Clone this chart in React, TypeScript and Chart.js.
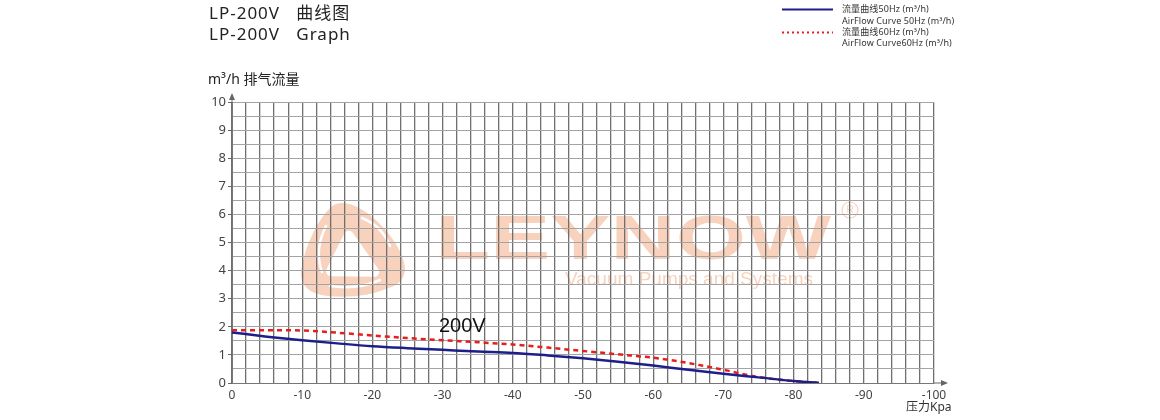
import React, { useEffect, useRef } from "react";
import { Chart, registerables } from "chart.js";

Chart.register(...registerables);

const pressure = [0, -5, -10, -15, -20, -25, -30, -35, -40, -45, -50, -55, -60, -65, -70, -75, -80, -83.6];
const flow50 = [1.8, 1.65, 1.52, 1.41, 1.31, 1.24, 1.18, 1.12, 1.07, 0.98, 0.88, 0.76, 0.62, 0.47, 0.33, 0.2, 0.07, 0];
const flow60 = [1.88, 1.88, 1.87, 1.79, 1.69, 1.6, 1.52, 1.45, 1.37, 1.26, 1.14, 1.02, 0.9, 0.71, 0.47, 0.21, 0.07, 0];

const titleLines = ["LP-200V   曲线图", "LP-200V   Graph"];
const legendLabels = ["流量曲线50Hz (m³/h)", "AirFlow Curve 50Hz (m³/h)", "流量曲线60Hz (m³/h)", "AirFlow Curve60Hz (m³/h)"];
const yAxisTitle = "m³/h 排气流量";
const xAxisTitle = "压力Kpa";
const curveLabel = "200V";

const BLUE = "#1c1f8a";
const RED = "#e61e1e";
const PEACH = "#f8d2bc";
const FONT = "'Noto Sans', 'Noto Sans CJK SC', sans-serif";

function roundedTri(ctx: CanvasRenderingContext2D, pts: number[][], r: number) {
  const n = pts.length;
  const mid = (a: number[], b: number[]) => [(a[0] + b[0]) / 2, (a[1] + b[1]) / 2];
  const start = mid(pts[n - 1], pts[0]);
  ctx.beginPath();
  ctx.moveTo(start[0], start[1]);
  for (let i = 0; i < n; i++) {
    const p = pts[i];
    const q = pts[(i + 1) % n];
    const m = mid(p, q);
    ctx.arcTo(p[0], p[1], m[0], m[1], r);
  }
  ctx.closePath();
}

const decor = {
  id: "decor",
  beforeDraw(chart: any) {
    const ctx = chart.ctx as CanvasRenderingContext2D;
    ctx.save();
    ctx.fillStyle = "#ffffff";
    ctx.fillRect(0, 0, chart.width, chart.height);

    // logo
    ctx.fillStyle = PEACH;
    ctx.beginPath();
    ctx.moveTo(343, 203);
    ctx.bezierCurveTo(366, 204, 398, 238, 404, 262);
    ctx.bezierCurveTo(408, 278, 398, 286, 388, 288);
    ctx.bezierCurveTo(370, 296, 348, 298, 328, 296);
    ctx.bezierCurveTo(306, 294, 298, 282, 302, 266);
    ctx.bezierCurveTo(306, 244, 318, 220, 330, 208);
    ctx.bezierCurveTo(334, 204, 338, 203, 343, 203);
    ctx.closePath();
    ctx.fill();
    ctx.fillStyle = "#ffffff";
    roundedTri(ctx, [[348, 226], [323, 276], [384, 277]], 5);
    ctx.fill();
    ctx.strokeStyle = "#ffffff";
    ctx.lineWidth = 2.5;
    ctx.lineCap = "round";
    ctx.beginPath();
    ctx.moveTo(326, 226);
    ctx.quadraticCurveTo(314, 250, 322, 272);
    ctx.stroke();
    ctx.beginPath();
    ctx.moveTo(362, 218);
    ctx.quadraticCurveTo(382, 226, 390, 246);
    ctx.stroke();
    ctx.beginPath();
    ctx.moveTo(330, 286);
    ctx.quadraticCurveTo(358, 290, 380, 280);
    ctx.stroke();

    // LEYNOW
    ctx.fillStyle = PEACH;
    ctx.font = `bold 63px 'Liberation Sans', Arial, sans-serif`;
    ctx.textBaseline = "alphabetic";
    ctx.textAlign = "left";
    const w = ctx.measureText("LEYNOW").width;
    ctx.save();
    ctx.translate(435, 259);
    ctx.scale(396 / w, 1);
    ctx.fillText("LEYNOW", 0, 0);
    ctx.restore();
    ctx.font = `19px 'Liberation Sans', Arial, sans-serif`;
    const w2 = ctx.measureText("Vacuum Pumps and Systems").width;
    ctx.save();
    ctx.translate(565, 285);
    ctx.scale(248 / w2, 1);
    ctx.fillText("Vacuum Pumps and Systems", 0, 0);
    ctx.restore();
    ctx.strokeStyle = PEACH;
    ctx.lineWidth = 1.2;
    ctx.beginPath();
    ctx.arc(850, 210, 8, 0, Math.PI * 2);
    ctx.stroke();
    ctx.font = `10px 'Liberation Sans', Arial, sans-serif`;
    ctx.textAlign = "center";
    ctx.textBaseline = "middle";
    ctx.fillText("R", 850, 210.5);
    ctx.restore();
  },
  afterDraw(chart: any) {
    const ctx = chart.ctx as CanvasRenderingContext2D;
    const area = chart.chartArea;
    ctx.save();
    // axis arrows
    ctx.fillStyle = "#666";
    ctx.strokeStyle = "#666";
    ctx.lineWidth = 1;
    ctx.beginPath();
    ctx.moveTo(area.left, area.top);
    ctx.lineTo(area.left, area.top - 6);
    ctx.stroke();
    ctx.beginPath();
    ctx.moveTo(area.left, area.top - 9);
    ctx.lineTo(area.left - 3, area.top - 2);
    ctx.lineTo(area.left + 3, area.top - 2);
    ctx.closePath();
    ctx.fill();
    ctx.beginPath();
    ctx.moveTo(area.right, area.bottom);
    ctx.lineTo(area.right + 10, area.bottom);
    ctx.stroke();
    ctx.beginPath();
    ctx.moveTo(area.right + 14, area.bottom);
    ctx.lineTo(area.right + 7, area.bottom - 3);
    ctx.lineTo(area.right + 7, area.bottom + 3);
    ctx.closePath();
    ctx.fill();

    // titles
    ctx.fillStyle = "#222";
    ctx.textAlign = "left";
    ctx.textBaseline = "middle";
    ctx.font = `17px ${FONT}`;
    (ctx as any).letterSpacing = "1px";
    ctx.fillText(titleLines[0], 209, 14);
    ctx.fillText(titleLines[1], 209, 35);
    (ctx as any).letterSpacing = "0px";

    // axis titles
    ctx.fillStyle = "#222";
    ctx.font = `14px ${FONT}`;
    ctx.fillText(yAxisTitle, 208, 80);
    ctx.font = `12px ${FONT}`;
    ctx.fillStyle = "#333";
    ctx.fillText(xAxisTitle, 906, 408);

    // curve label
    ctx.fillStyle = "#111";
    ctx.font = `20px 'Liberation Sans', Arial, sans-serif`;
    ctx.fillText(curveLabel, 439, 326);

    // legend
    ctx.lineWidth = 2;
    ctx.strokeStyle = BLUE;
    ctx.beginPath();
    ctx.moveTo(782, 9.5);
    ctx.lineTo(833, 9.5);
    ctx.stroke();
    ctx.strokeStyle = RED;
    ctx.setLineDash([2, 3]);
    ctx.beginPath();
    ctx.moveTo(782, 32.5);
    ctx.lineTo(833, 32.5);
    ctx.stroke();
    ctx.setLineDash([]);
    ctx.fillStyle = "#333";
    ctx.font = `9px ${FONT}`;
    (ctx as any).letterSpacing = "0.1px";
    ctx.fillText(legendLabels[0], 842, 9);
    ctx.fillText(legendLabels[1], 842, 21);
    ctx.fillText(legendLabels[2], 842, 32);
    ctx.fillText(legendLabels[3], 842, 43);
    (ctx as any).letterSpacing = "0px";
    ctx.restore();
  },
};

export default function App() {
  const ref = useRef<HTMLCanvasElement | null>(null);
  useEffect(() => {
    if (!ref.current) return;
    const chart = new Chart(ref.current, {
      type: "line",
      data: {
        datasets: [
          {
            label: "50Hz",
            data: pressure.map((p, i) => ({ x: p, y: flow50[i] })),
            borderColor: BLUE,
            borderWidth: 2.5,
            pointRadius: 0,
            cubicInterpolationMode: "monotone",
            fill: false,
          },
          {
            label: "60Hz",
            data: pressure.map((p, i) => ({ x: p, y: flow60[i] })),
            borderColor: RED,
            borderWidth: 2.5,
            borderDash: [5, 4],
            pointRadius: 0,
            cubicInterpolationMode: "monotone",
            fill: false,
          },
        ],
      },
      options: {
        animation: false,
        responsive: false,
        devicePixelRatio: 1,
        layout: { padding: { top: 102, right: 226, left: 0, bottom: 0 } },
        plugins: { legend: { display: false }, tooltip: { enabled: false } },
        scales: {
          x: {
            type: "linear",
            min: -100,
            max: 0,
            reverse: true,
            afterFit: (s: any) => {
              s.height = 37;
            },
            border: { display: true, color: "#777", width: 1 },
            grid: { color: "#6f6f6f", lineWidth: 1.3, drawTicks: false },
            ticks: {
              stepSize: 2,
              autoSkip: false,
              maxRotation: 0,
              padding: 5,
              color: "#444",
              font: { size: 12, family: FONT },
              callback: (v: any) => (Number(v) % 10 === 0 ? String(v) : ""),
            },
          },
          y: {
            type: "linear",
            min: 0,
            max: 10,
            afterFit: (s: any) => {
              s.width = 232;
            },
            border: { display: true, color: "#777", width: 1 },
            grid: {
              color: "#a3a3a3",
              lineWidth: 1,
              drawTicks: true,
              tickLength: 4,
              tickColor: (c: any) => (c.tick && Number.isInteger(c.tick.value) ? "#666" : "rgba(0,0,0,0)"),
            },
            ticks: {
              stepSize: 0.5,
              autoSkip: false,
              padding: 2,
              color: "#444",
              font: { size: 13, family: FONT },
              callback: (v: any) => (Number.isInteger(Number(v)) ? String(v) : ""),
            },
          },
        },
      },
      plugins: [decor],
    } as any);
    return () => chart.destroy();
  }, []);
  return (
    <div style={{ position: "absolute", left: 0, top: 0, width: 1160, height: 420, background: "#fff" }}>
      <canvas ref={ref} width={1160} height={420} style={{ display: "block" }} />
    </div>
  );
}
